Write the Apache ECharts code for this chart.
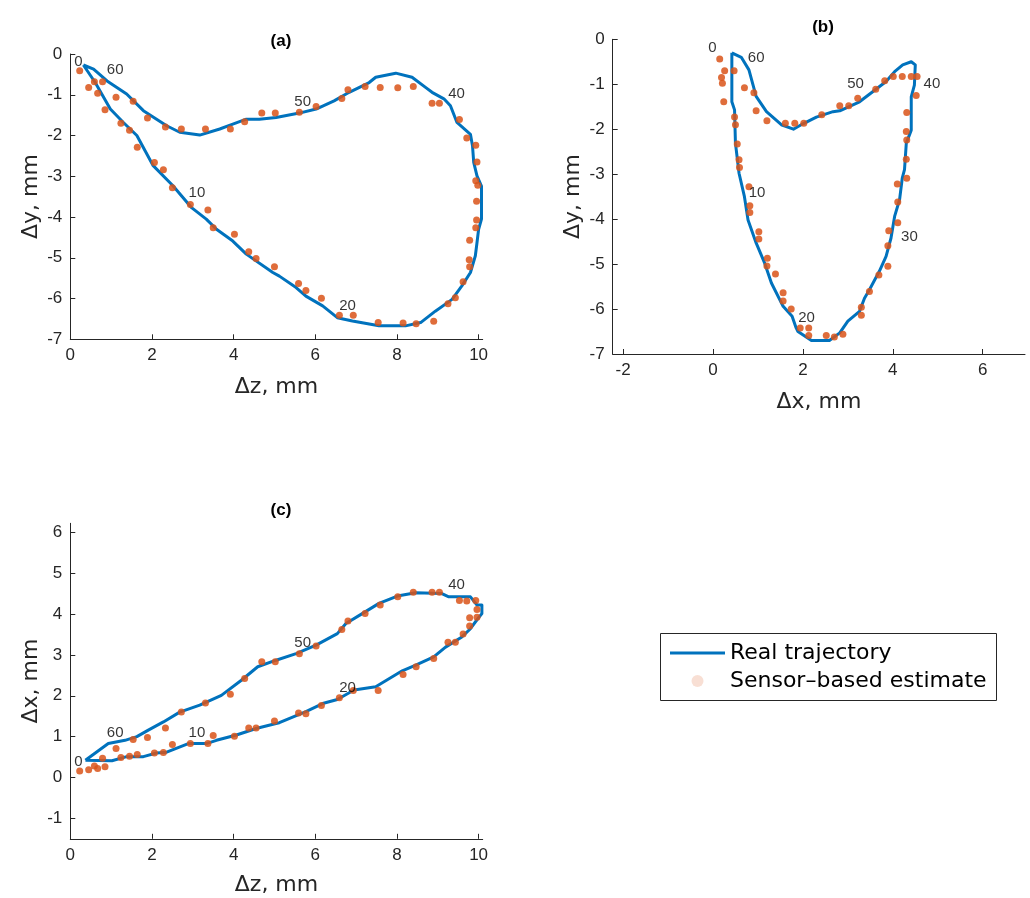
<!DOCTYPE html>
<html>
<head>
<meta charset="utf-8">
<script src="https://cdn.jsdelivr.net/npm/echarts@6/dist/echarts.min.js"></script>
<style>
html,body{margin:0;padding:0;background:#fff;}
#chart{width:1030px;height:898px;}
</style>
</head>
<body>
<div id="chart"></div>
<script>
// ---------- DATA ----------
// Panel (a): Δz (x-axis) vs Δy (y-axis)
var realA = [[0.32,-0.27],[0.61,-0.70],[0.98,-1.35],[1.30,-1.68],[1.63,-2.00],[2.03,-2.74],[2.52,-3.24],[2.97,-3.77],[3.33,-4.05],[3.58,-4.30],[3.98,-4.59],[4.31,-4.91],[4.96,-5.36],[5.12,-5.45],[5.53,-5.73],[5.77,-5.94],[6.18,-6.18],[6.54,-6.47],[6.91,-6.55],[7.56,-6.67],[8.21,-6.67],[8.58,-6.59],[8.94,-6.31],[9.35,-6.02],[9.59,-5.69],[9.80,-5.36],[9.92,-4.95],[9.96,-4.63],[10.0,-4.30],[10.07,-4.05],[10.07,-3.24],[9.96,-2.99],[9.88,-2.66],[9.85,-2.25],[9.80,-1.97],[9.47,-1.68],[9.31,-1.27],[9.15,-1.10],[8.86,-0.94],[8.70,-0.82],[8.37,-0.57],[7.97,-0.47],[7.48,-0.57],[7.32,-0.70],[6.83,-0.94],[6.46,-1.15],[6.02,-1.35],[5.61,-1.45],[5.04,-1.56],[4.63,-1.60],[4.31,-1.60],[3.98,-1.72],[3.66,-1.84],[3.17,-1.99],[2.68,-1.92],[2.36,-1.76],[1.79,-1.39],[1.38,-0.98],[0.90,-0.66],[0.57,-0.37],[0.32,-0.27]];
var estA = [[0.23,-0.41],[0.45,-0.82],[0.59,-0.68],[0.67,-0.96],[0.79,-0.68],[0.85,-1.37],[1.12,-1.06],[1.24,-1.70],[1.45,-1.87],[1.54,-1.16],[1.64,-2.29],[1.89,-1.57],[2.06,-2.66],[2.28,-2.84],[2.33,-1.79],[2.50,-3.28],[2.72,-1.84],[2.94,-3.69],[3.31,-1.84],[3.37,-3.83],[3.50,-4.26],[3.92,-1.84],[4.02,-4.42],[4.27,-1.66],[4.37,-4.85],[4.55,-5.02],[4.69,-1.45],[5.00,-5.22],[5.02,-1.45],[5.59,-5.63],[5.61,-1.43],[6.02,-1.29],[6.65,-1.09],[6.80,-0.88],[7.22,-0.80],[7.59,-0.82],[8.02,-0.83],[8.40,-0.80],[8.86,-1.21],[9.04,-1.21],[9.53,-1.61],[9.71,-2.06],[9.93,-2.24],[9.96,-2.65],[9.93,-3.11],[9.98,-3.22],[9.95,-3.61],[9.95,-4.07],[9.93,-4.26],[9.78,-4.57],[9.77,-5.05],[9.78,-5.22],[9.62,-5.59],[9.43,-5.98],[9.25,-6.13],[8.90,-6.56],[8.47,-6.62],[8.15,-6.60],[7.54,-6.59],[6.93,-6.41],[6.59,-6.41],[6.15,-5.99],[5.77,-5.80]];
var tagPosA = [[0.2,-0.19],[3.1,-3.4],[6.79,-6.18],[10.16,-4.38],[9.46,-0.98],[5.69,-1.17],[1.10,-0.38]];

// Panel (b): Δx (x-axis) vs Δy (y-axis)
var realB = [[0.42,-0.30],[0.42,-1.39],[0.48,-1.57],[0.50,-2.31],[0.58,-2.98],[0.70,-3.50],[0.78,-4.02],[0.96,-4.53],[1.15,-4.98],[1.30,-5.42],[1.56,-5.94],[1.76,-6.16],[1.85,-6.42],[1.89,-6.50],[2.19,-6.70],[2.59,-6.70],[2.82,-6.53],[3.00,-6.27],[3.26,-6.05],[3.37,-5.76],[3.48,-5.57],[3.70,-5.16],[3.85,-4.83],[3.96,-4.42],[4.04,-3.94],[4.15,-3.57],[4.21,-3.09],[4.26,-2.90],[4.28,-2.61],[4.30,-2.31],[4.41,-2.02],[4.41,-1.28],[4.48,-1.02],[4.50,-0.57],[4.41,-0.50],[4.22,-0.57],[4.04,-0.72],[3.85,-0.94],[3.56,-1.16],[3.26,-1.39],[2.82,-1.59],[2.67,-1.61],[2.30,-1.73],[2.00,-1.88],[1.79,-2.00],[1.52,-1.90],[1.19,-1.61],[0.96,-1.27],[0.80,-0.68],[0.63,-0.40],[0.42,-0.30]];
var estB = [[0.15,-0.44],[0.26,-0.70],[0.19,-0.85],[0.21,-0.98],[0.24,-1.39],[0.47,-0.70],[0.70,-1.08],[0.91,-1.19],[0.96,-1.59],[1.20,-1.81],[1.61,-1.87],[1.82,-1.87],[0.48,-1.73],[0.50,-1.90],[0.54,-2.33],[0.58,-2.68],[0.59,-2.85],[0.80,-3.28],[0.82,-3.70],[0.82,-3.85],[1.02,-4.28],[1.02,-4.44],[1.21,-4.87],[1.20,-5.04],[1.39,-5.22],[1.56,-5.64],[1.56,-5.82],[1.74,-6.00],[1.94,-6.42],[2.13,-6.42],[2.13,-6.59],[2.52,-6.59],[2.70,-6.62],[2.89,-6.56],[3.30,-5.96],[3.30,-6.14],[3.48,-5.61],[3.69,-5.24],[3.89,-5.05],[3.89,-4.59],[3.91,-4.26],[4.11,-4.08],[4.11,-3.62],[4.10,-3.22],[4.31,-3.09],[4.30,-2.67],[4.31,-2.24],[4.30,-2.05],[4.31,-1.63],[4.52,-1.25],[4.54,-0.83],[4.41,-0.83],[4.21,-0.83],[4.01,-0.83],[3.82,-0.92],[3.62,-1.11],[3.22,-1.31],[3.02,-1.48],[2.82,-1.48],[2.42,-1.68],[2.02,-1.87]];
var tagPosB = [[-0.01,-0.2],[0.98,-3.41],[2.08,-6.2],[4.37,-4.4],[4.87,-1.0],[3.17,-1.0],[0.96,-0.41]];

// Panel (c): Δz (x-axis) vs Δx (y-axis)
var realC = [[0.37,0.42],[1.02,0.41],[1.38,0.51],[1.79,0.51],[2.11,0.60],[2.36,0.62],[2.89,0.83],[3.33,0.83],[3.58,0.91],[4.07,1.04],[4.55,1.20],[5.04,1.32],[5.12,1.34],[5.77,1.61],[6.18,1.81],[6.54,1.91],[6.95,2.14],[7.48,2.22],[8.13,2.61],[8.46,2.75],[8.90,2.95],[9.19,3.19],[9.59,3.44],[9.80,3.64],[9.96,3.86],[10.08,4.01],[10.08,4.22],[9.96,4.22],[9.80,4.42],[9.27,4.42],[9.10,4.50],[8.46,4.52],[8.01,4.44],[7.56,4.26],[7.15,4.01],[6.75,3.77],[6.54,3.52],[6.02,3.24],[5.53,3.03],[5.04,2.87],[4.59,2.71],[4.19,2.38],[3.70,2.01],[3.17,1.77],[2.68,1.60],[2.28,1.36],[1.91,1.16],[1.63,1.00],[1.34,0.91],[0.93,0.83],[0.37,0.42]];
var estC = [[0.23,0.16],[0.45,0.19],[0.59,0.28],[0.67,0.22],[0.79,0.47],[0.85,0.26],[1.12,0.71],[1.24,0.49],[1.45,0.52],[1.54,0.93],[1.64,0.56],[1.89,0.98],[2.06,0.60],[2.28,0.61],[2.33,1.21],[2.50,0.81],[2.72,1.60],[2.94,0.83],[3.31,1.82],[3.37,0.83],[3.50,1.03],[3.92,2.04],[4.02,1.01],[4.27,2.42],[4.37,1.21],[4.55,1.21],[4.69,2.83],[5.00,1.38],[5.02,2.83],[5.59,1.58],[5.61,3.03],[6.02,3.22],[6.65,3.62],[6.80,3.83],[7.22,4.01],[7.59,4.22],[8.02,4.42],[8.40,4.53],[8.86,4.53],[9.04,4.53],[9.53,4.33],[9.71,4.32],[9.93,4.33],[9.96,4.11],[9.96,3.92],[9.78,3.91],[9.78,3.71],[9.62,3.51],[9.43,3.31],[9.25,3.31],[8.90,2.91],[8.47,2.71],[8.15,2.52],[7.54,2.13],[6.93,2.13],[6.59,1.95],[6.15,1.76],[5.77,1.56]];
var tagPosC = [[0.2,0.39],[3.1,1.09],[6.79,2.2],[10.35,3.9],[9.46,4.72],[5.69,3.3],[1.1,1.09]];

var tagText = ['0','10','20','30','40','50','60'];

var ticksZ = [0,2,4,6,8,10];
var ticksY = [-7,-6,-5,-4,-3,-2,-1,0];
var ticksXb = [-2,0,2,4,6];
var ticksXc = [-1,0,1,2,3,4,5,6];

var titles = ['(a)','(b)','(c)'];
var seriesNames = ['Real trajectory','Sensor\u2013based estimate'];

// ---------- CHART ----------
var AX = '#262626';
var BLUE = '#0072BD';
var ORANGE = '#D95319';
var FONT = 'Liberation Sans, Arial, Helvetica, sans-serif';
var WIDE = 'DejaVu Sans, sans-serif';

function axisCommon(name, nameGap, ticks, min, max, gridIndex) {
  return {
    type: 'value', gridIndex: gridIndex, min: min, max: max,
    name: name, nameLocation: 'middle', nameGap: nameGap,
    nameTextStyle: {fontSize: 22, color: AX, fontFamily: WIDE},
    axisLine: {show: true, onZero: false, lineStyle: {color: AX, width: 1}},
    axisTick: {show: true, inside: true, length: 5, customValues: ticks, lineStyle: {color: AX, width: 1}},
    axisLabel: {show: true, customValues: ticks, fontSize: 17, color: AX, fontFamily: FONT, margin: 8},
    splitLine: {show: false}
  };
}

function tagData(pos) {
  return pos.map(function (p, i) { return [p[0], p[1], tagText[i]]; });
}

function lineSeries(data, g) {
  return {type: 'line', name: seriesNames[0], xAxisIndex: g, yAxisIndex: g, data: data,
    showSymbol: false, symbol: 'none', smooth: false, clip: false,
    lineStyle: {color: BLUE, width: 3, join: 'round'}, itemStyle: {color: BLUE}, z: 2, animation: false};
}
function dotSeries(data, g) {
  return {type: 'scatter', name: seriesNames[1], xAxisIndex: g, yAxisIndex: g, data: data,
    symbol: 'circle', symbolSize: 7, itemStyle: {color: ORANGE, opacity: 0.85}, z: 3, animation: false};
}
function tagSeries(pos, g) {
  return {type: 'scatter', xAxisIndex: g, yAxisIndex: g, data: tagData(pos), symbolSize: 0, silent: true,
    label: {show: true, position: 'inside', formatter: function (p) { return p.value[2]; },
      fontSize: 15, color: '#000', fontFamily: FONT}, z: 4, animation: false};
}

var chart = echarts.init(document.getElementById('chart'), null, {renderer: 'canvas'});
chart.setOption({
  backgroundColor: '#fff',
  animation: false,
  title: [
    {text: titles[0], left: 276, top: 28, textAlign: 'center', textStyle: {fontSize: 17, fontWeight: 'bold', color: '#000', fontFamily: FONT}},
    {text: titles[1], left: 818, top: 14, textAlign: 'center', textStyle: {fontSize: 17, fontWeight: 'bold', color: '#000', fontFamily: FONT}},
    {text: titles[2], left: 276, top: 497, textAlign: 'center', textStyle: {fontSize: 17, fontWeight: 'bold', color: '#000', fontFamily: FONT}}
  ],
  grid: [
    {left: 70.3, top: 54, width: 412.4, height: 285.3, containLabel: false},
    {left: 612.7, top: 39.3, width: 412.3, height: 314.7, containLabel: false},
    {left: 70.3, top: 523.3, width: 412.4, height: 315.5, containLabel: false}
  ],
  xAxis: [
    axisCommon('\u0394z, mm', 37, ticksZ, 0, 10.1, 0),
    axisCommon('\u0394x, mm', 37, ticksXb, -2.23, 6.94, 1),
    axisCommon('\u0394z, mm', 35, ticksZ, 0, 10.1, 2)
  ],
  yAxis: [
    axisCommon('\u0394y, mm', 28, ticksY, -7, 0, 0),
    axisCommon('\u0394y, mm', 28, ticksY, -7, 0, 1),
    axisCommon('\u0394x, mm', 28, ticksXc, -1.5, 6.22, 2)
  ],
  legend: {
    orient: 'vertical', left: 665, top: 637,
    itemWidth: 55, itemHeight: 12, itemGap: 6,
    textStyle: {fontSize: 22, color: '#000', fontFamily: WIDE},
    data: [
      {name: seriesNames[0], icon: 'path://M0,5 L55,5 L55,8 L0,8 Z', itemStyle: {color: BLUE}},
      {name: seriesNames[1], icon: 'circle', itemStyle: {color: 'rgba(217,83,25,0.22)'}}
    ],
    selectedMode: false
  },
  graphic: [
    {type: 'rect', shape: {x: 660.5, y: 633.5, width: 336, height: 67}, style: {fill: 'none', stroke: AX, lineWidth: 1}, z: 10}
  ],
  series: [
    lineSeries(realA, 0), dotSeries(estA, 0), tagSeries(tagPosA, 0),
    lineSeries(realB, 1), dotSeries(estB, 1), tagSeries(tagPosB, 1),
    lineSeries(realC, 2), dotSeries(estC, 2), tagSeries(tagPosC, 2)
  ]
});
</script>
</body>
</html>
